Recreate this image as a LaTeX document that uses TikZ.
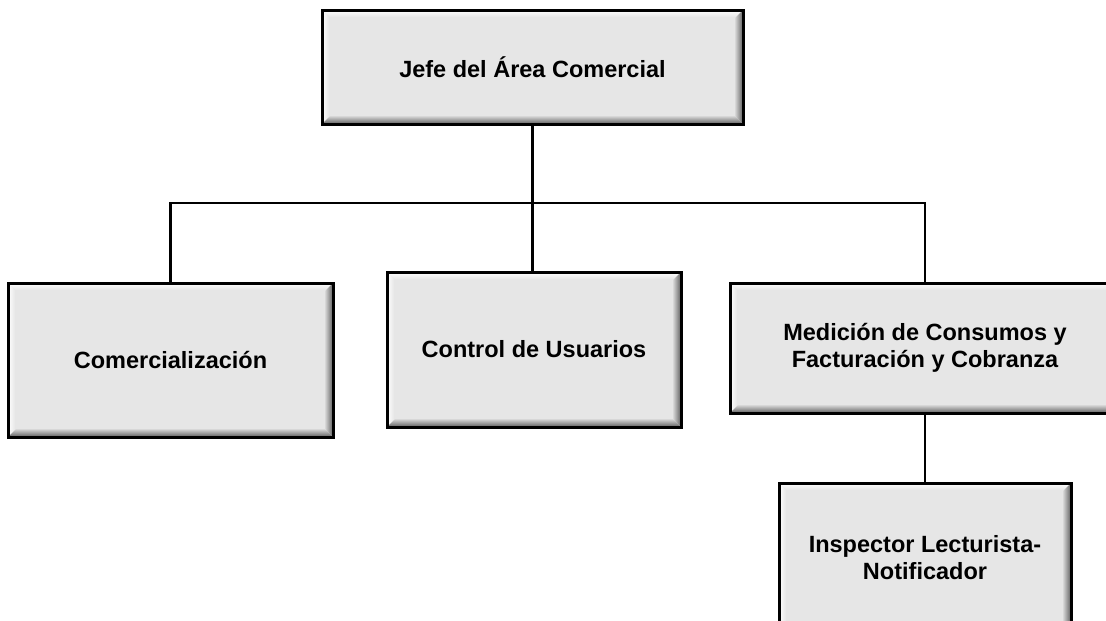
\documentclass[tikz,border=0pt]{standalone}
\usepackage{fontspec}
\setmainfont{Liberation Sans}
\definecolor{boxgray}{HTML}{E6E6E6}
\definecolor{bevdark}{HTML}{5E5E5E}
\tikzset{
  orgbox/.style={draw=black, line width=3pt, fill=boxgray, align=center,
    font=\fontsize{23.5}{27}\selectfont\bfseries, inner sep=0pt,
    path picture={
      \path (path picture bounding box.north west) coordinate (pnw)
            (path picture bounding box.north east) coordinate (pne)
            (path picture bounding box.south west) coordinate (psw)
            (path picture bounding box.south east) coordinate (pse);
      \shade[top color=white, bottom color=boxgray]
        (pnw) -- (pne) -- ([xshift=-7pt,yshift=-7pt]pne) -- ([xshift=7pt,yshift=-7pt]pnw) -- cycle;
      \shade[left color=white, right color=boxgray]
        (pnw) -- ([xshift=7pt,yshift=-7pt]pnw) -- ([xshift=7pt,yshift=7pt]psw) -- (psw) -- cycle;
      \shade[left color=boxgray, right color=bevdark]
        (pne) -- (pse) -- ([xshift=-9pt,yshift=9pt]pse) -- ([xshift=-9pt,yshift=-9pt]pne) -- cycle;
      \shade[top color=boxgray, bottom color=bevdark]
        (psw) -- (pse) -- ([xshift=-9pt,yshift=9pt]pse) -- ([xshift=9pt,yshift=9pt]psw) -- cycle;
    }},
  link/.style={draw=black, line width=2.5pt}
}
\begin{document}
\begin{tikzpicture}[x=1pt, y=-1pt]
  \useasboundingbox (0,0) rectangle (1106,621);
  \clip (0,0) rectangle (1106,621);
  \node[orgbox, minimum width=421pt, minimum height=114pt] (jefe) at (532.5,67) {Jefe del Área Comercial};
  \node[orgbox, minimum width=325pt, minimum height=154pt] (com) at (170.5,360) {Comercialización};
  \node[orgbox, minimum width=294pt, minimum height=155pt] (ctrl) at (534,349.5) {Control de Usuarios};
  \node[orgbox, minimum width=390pt, minimum height=130pt] (med) at (925,348) {Medición de Consumos y\\Facturación y Cobranza};
  \node[orgbox, minimum width=292pt, minimum height=150pt] (insp) at (925,558) {Inspector Lecturista-\\Notificador};
  \coordinate (bus) at (533,203);
  \draw[link] (jefe.south) -- (jefe.south |- ctrl.north);
  \draw[link] (com.north) -- (com.north |- bus) -- (med.north |- bus) -- (med.north);
  \draw[link] (med.south) -- (insp.north);
\end{tikzpicture}
\end{document}
